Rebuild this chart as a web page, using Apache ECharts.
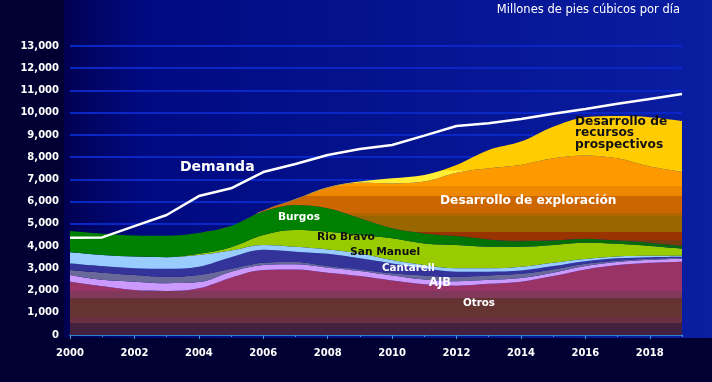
<!DOCTYPE html>
<html><head><meta charset="utf-8">
<script src="https://cdn.jsdelivr.net/npm/echarts@6/dist/echarts.min.js"></script>
<style>html,body{margin:0;padding:0;background:#000033;}#c{width:712px;height:382px;}</style>
</head><body><div id="c"></div>
<script>
// ---- data (millones de pies cúbicos por día) ----
const years = ['2000','2001','2002','2003','2004','2005','2006','2007','2008','2009','2010','2011','2012','2013','2014','2015','2016','2017','2018','2019'];
const otros       = [2400,2200,2020,1980,2100,2580,2920,2950,2800,2650,2450,2280,2220,2300,2400,2650,2950,3150,3250,3300];
const ajb         = [300,280,380,350,280,270,230,230,230,230,230,220,200,180,160,150,150,130,130,130];
const gris        = [220,320,300,290,320,130,100,100,70,70,100,180,200,200,190,150,100,70,50,40];
const cantarell   = [300,300,300,360,370,520,580,470,550,500,440,320,230,170,150,150,120,100,70,50];
const celeste     = [500,500,530,520,530,300,220,220,200,220,150,150,150,150,170,150,100,80,60,50];
const sanManuel   = [0,0,0,0,50,150,450,750,800,830,980,970,1050,970,900,800,730,570,440,310];
const burgos      = [960,960,950,970,940,950,1050,1130,1050,750,450,450,400,330,250,200,180,150,150,120];
const exploracion = [0,0,0,0,0,0,50,250,920,1600,2020,2330,2850,3200,3430,3700,3750,3700,3430,3350];
const prospectivos= [0,0,0,0,0,0,0,20,30,50,230,300,350,820,1050,1420,1720,1900,2220,2280];
const demanda     = [4370,4390,4900,5400,6250,6600,7330,7690,8100,8370,8550,8970,9400,9520,9720,9950,10170,10400,10620,10840];

const G = echarts.graphic.LinearGradient;
function bands(y0, y1, list){ // colour bands fixed on screen
  const st = [];
  list.forEach(b => {
    st.push({offset: Math.max(0,(b[0]-y0)/(y1-y0)), color: b[2]});
    st.push({offset: Math.min(1,(b[1]-y0)/(y1-y0)), color: b[2]});
  });
  return new G(0, y0, 0, y1, st, true);
}
const otrosFill = bands(240, 336, [[240,291,'#993366'],[291.5,298,'#80395a'],[298.5,318,'#663333'],[318.5,323,'#6b2f44'],[323.5,336,'#42203e']]);
const exploFill = bands(140, 250, [[140,186,'#ff9900'],[186.5,196,'#ee8800'],[196.5,213,'#cc6600'],[213.5,216,'#b06600'],[216.5,232,'#996600'],[232.5,240,'#993300'],[240.5,250,'#7a3a10']]);
const prospFill = bands(100, 200, [[100,170,'#ffcc00'],[171,200,'#ffee33']]);
const burgosFill = new G(70, 0, 682, 0, [{offset:0,color:'#008000'},{offset:0.5,color:'#008000'},{offset:0.7,color:'#046f08'},{offset:1,color:'#066a08'}], true);

function area(name, arr, color){
  return {name, type:'line', stack:'total', data: arr, smooth:0.35,
    symbol:'none', lineStyle:{width:0}, areaStyle:{color, opacity:1}, z:2, silent:true};
}

const FONT = '"DejaVu Sans", Verdana, sans-serif';
function lbl(text, x, y, size, fill){
  return {type:'text', x, y, z:100, silent:true,
    style:{text, fill, font:'bold '+size+'px '+FONT, align:'left', verticalAlign:'middle'}};
}

const chart = echarts.init(document.getElementById('c'), null, {renderer:'canvas'});
chart.setOption({
  backgroundColor:'#000033',
  animation:false,
  grid:{left:70, right:30, top:46, bottom:47},
  xAxis:[
    {type:'category', data:years, boundaryGap:false,
      axisLine:{show:true, lineStyle:{color:'#3a9ad0', width:1.5}},
      axisTick:{show:true, interval:1, length:4, lineStyle:{color:'#3a9ad0'}},
      splitLine:{show:false},
      axisLabel:{interval:1, color:'#ffffff', fontFamily:FONT, fontWeight:'bold', fontSize:10, margin:13}},
    {type:'category', data:years, boundaryGap:false, position:'bottom',
      axisLine:{show:false},
      axisTick:{show:true, interval:0, length:2, lineStyle:{color:'#3a9ad0'}},
      axisLabel:{show:false}, splitLine:{show:false}}
  ],
  yAxis:{type:'value', min:0, max:13000, interval:1000,
    axisLine:{show:false}, axisTick:{show:false},
    splitLine:{show:true, lineStyle:{color:'#0a26c4', width:2}},
    axisLabel:{color:'#ffffff', fontFamily:FONT, fontWeight:'bold', fontSize:10, margin:11,
      formatter: v => v.toLocaleString('en-US')}},
  graphic:[
    {type:'rect', z:-10, silent:true, shape:{x:64, y:0, width:648, height:338},
      style:{fill:new G(0,0,1,0,[{offset:0,color:'#000052'},{offset:0.12,color:'#000a80'},{offset:1,color:'#0a1ea2'}])}},
    {type:'text', z:100, silent:true, x:680, y:10,
      style:{text:'Millones de pies cúbicos por día', fill:'#ffffff', font:'11.5px '+FONT, align:'right', verticalAlign:'middle'}},
    lbl('Demanda', 180, 167, 14, '#ffffff'),
    lbl('Burgos', 278, 217, 10.6, '#ffffff'),
    lbl('Rio Bravo', 317, 237, 10.7, '#111111'),
    lbl('San Manuel', 350, 252, 10.7, '#111111'),
    lbl('Cantarell', 382, 268, 10.3, '#ffffff'),
    lbl('AJB', 429, 283, 11.5, '#ffffff'),
    lbl('Otros', 463, 303, 10.3, '#ffffff'),
    lbl('Desarrollo de exploración', 440, 201, 12.2, '#ffffff'),
    {type:'text', z:100, silent:true, x:575, y:116,
      style:{text:'Desarrollo de\nrecursos\nprospectivos', fill:'#111111', font:'bold 12.2px '+FONT,
        align:'left', verticalAlign:'top', lineHeight:11.5}}
  ],
  series:[
    area('Otros', otros, otrosFill),
    area('AJB', ajb, '#cc99ff'),
    area('Gris', gris, '#686899'),
    area('Cantarell', cantarell, '#333399'),
    area('Celeste', celeste, '#99ccff'),
    area('San Manuel', sanManuel, '#99cc00'),
    area('Burgos', burgos, burgosFill),
    area('Desarrollo de exploración', exploracion, exploFill),
    area('Desarrollo de recursos prospectivos', prospectivos, prospFill),
    {name:'Demanda', type:'line', data:demanda, smooth:false, symbol:'none',
      lineStyle:{color:'#ffffff', width:2.5}, z:5, silent:true}
  ]
});
</script></body></html>
